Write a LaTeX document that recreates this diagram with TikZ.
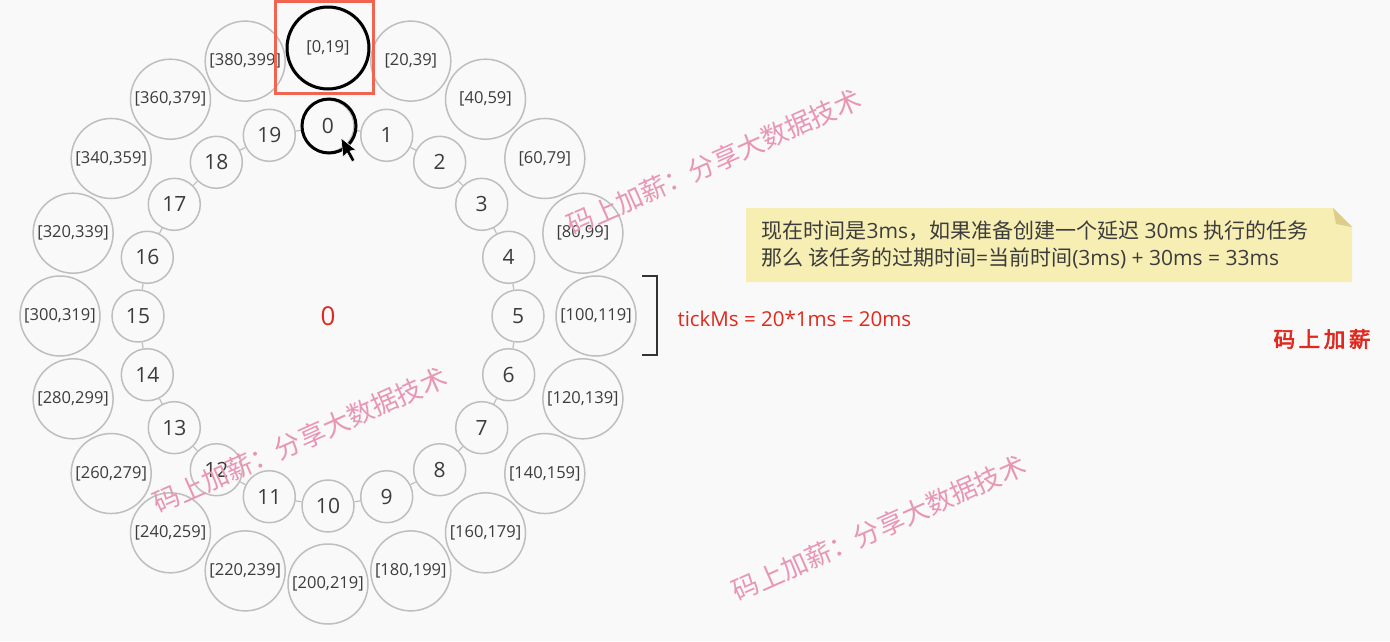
\documentclass[tikz,border=0pt]{standalone}
\usepackage{fontspec}
\setmainfont{Open Sans}
\newfontfamily\cjk{Noto Sans CJK SC}
\newfontfamily\cjkbold[FakeBold=3]{Noto Sans CJK SC}
\usetikzlibrary{calc}
\definecolor{bg}{RGB}{249,249,249}
\definecolor{ringgray}{RGB}{190,190,190}
\definecolor{txt}{RGB}{60,60,60}
\definecolor{boxred}{RGB}{240,100,80}
\definecolor{wmpink}{RGB}{232,150,180}
\definecolor{notefill}{RGB}{247,238,180}
\definecolor{notefold}{RGB}{222,205,135}
\definecolor{labred}{RGB}{225,40,30}
\newcommand{\zh}[1]{{\cjk #1}}
\tikzset{
  slot/.style={circle, draw=ringgray, line width=1.5pt, fill=bg, minimum size=52pt, inner sep=0pt,
    text=txt, font=\fontsize{21}{25}\selectfont},
  bucket/.style={circle, draw=ringgray, line width=1.5pt, fill=bg, minimum size=80pt, inner sep=0pt,
    text=txt, font=\fontsize{16.5}{19}\selectfont},
  link/.style={draw=ringgray, line width=1.2pt},
  hl/.style={draw=black, line width=3pt},
  redbox/.style={draw=boxred, line width=3pt},
  wm/.style={text=wmpink, font=\cjk\fontsize{26.5}{30}\selectfont, inner sep=0pt},
  bracket/.style={draw=black!80, line width=2.5pt},
}
\begin{document}
\begin{tikzpicture}[x=1pt,y=-1pt]
\fill[bg] (0,0) rectangle (1390,641);
\useasboundingbox (0,0) rectangle (1390,641);
\coordinate (C) at (328,316);
\foreach \k in {0,...,19}{
  \node[slot] (s\k) at ($(C)+(18*\k-90:190)$) {\k};
}
\foreach \k in {0,...,19}{
  \pgfmathtruncatemacro\n{mod(\k+1,20)}
  \draw[link] (s\k) -- (s\n);
}
\foreach \k in {0,...,19}{
  \pgfmathtruncatemacro\lo{20*\k}
  \pgfmathtruncatemacro\hi{20*\k+19}
  \node[bucket] (b\k) at ($(C)+(18*\k-90:268)$) {[\lo,\hi]};
}
% highlights
\draw[hl] (b0.center) circle[radius=41];
\draw[hl] ($(s0.center)+(1,0)$) circle[radius=27];
\draw[redbox] (275,1.5) rectangle (373,93);
% cursor
\filldraw[black, draw=white, line width=0.6pt] (341,138) -- (343,157) -- (347,153) -- (352,162) -- (355,160) -- (350,151) -- (356,150) -- cycle;
% centre label
\node[text=labred, font=\fontsize{26}{30}\selectfont] (cen) at (C) {0};
% bracket and tick label
\draw[bracket] (642,276) -- (657,276) -- (657,355) -- (642,355);
\node[text=labred, font=\fontsize{20.5}{24}\selectfont, anchor=west] (tick) at (674,319) {tickMs = 20*1ms = 20ms};
% note box
\fill[notefill] (746,208) -- (1333,208) -- (1352,227) -- (1352,282) -- (746,282) -- cycle;
\fill[notefold] (1333,208) -- (1352,227) -- (1336,224) -- cycle;
\node[anchor=west, align=left, text=txt, font=\fontsize{21}{27}\selectfont] (note) at (758,245)
  {\zh{现在时间是}3ms\zh{，如果准备创建一个延迟} 30ms \zh{执行的任务}\\\zh{那么 该任务的过期时间}=\zh{当前时间}(3ms) + 30ms = 33ms};
% red mark
\node[text=labred, font=\cjkbold\fontsize{21.5}{24}\selectfont] (mark) at (1322,339) {码\,上\,加\,薪};
% watermarks
\node[wm, rotate=24] (w1) at (714,162) {码上加薪：分享大数据技术};
\node[wm, rotate=24] (w2) at (300,440) {码上加薪：分享大数据技术};
\node[wm, rotate=24] (w3) at (879,528) {码上加薪：分享大数据技术};
\end{tikzpicture}
\end{document}
